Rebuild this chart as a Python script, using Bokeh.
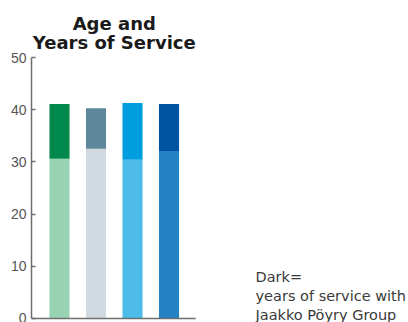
from bokeh.plotting import figure
from bokeh.models import Range1d, FixedTicker
from bokeh.core.properties import value
from bokeh.embed import file_html
from bokeh.resources import INLINE

# Data
groups = [1, 2, 3, 4]
age = [41.1, 40.3, 41.3, 41.1]             # total bar height = average age
service = [10.5, 7.8, 10.9, 9.0]           # dark part = years of service
light_colors = ["#98d4b4", "#d0d8e0", "#4cbbe8", "#2481c3"]
dark_colors = ["#00894b", "#5e879c", "#009ddf", "#0053a0"]
y_ticks = [0, 10, 20, 30, 40, 50]
title_lines = ["Age and", "Years of Service"]
note_lines = ["Dark=", "years of service with", "Jaakko Pöyry Group"]

split = [a - s for a, s in zip(age, service)]

X0, X_AXIS_END = 0.233, 4.73

p = figure(width=408, height=322, output_backend="svg", toolbar_location=None,
           x_range=Range1d(X0, 10.56), y_range=Range1d(-0.77, 60.93),
           x_axis_type=None, min_border_left=31, min_border_right=0,
           min_border_top=0, min_border_bottom=0)
p.outline_line_color = None
p.grid.visible = False
p.background_fill_color = "white"
p.border_fill_color = "white"

p.vbar(x=groups, width=0.55, bottom=0, top=split, color=light_colors, line_color=None)
p.vbar(x=groups, width=0.55, bottom=split, top=age, color=dark_colors, line_color=None)

ax = p.yaxis[0]
ax.bounds = (y_ticks[0], y_ticks[-1])
ax.ticker = FixedTicker(ticks=y_ticks)
ax.axis_line_color = "#6e6e6e"
ax.axis_line_width = 1.5
ax.major_tick_line_color = "#6e6e6e"
ax.major_tick_line_width = 1.5
ax.major_tick_in = 4
ax.major_tick_out = 0
ax.minor_tick_line_color = None
ax.major_label_standoff = 5
ax.major_label_text_font = "Liberation Sans"
ax.major_label_text_font_size = "14px"
ax.major_label_text_color = "#555555"

# baseline (x axis line)
p.segment(x0=[X0], y0=[0], x1=[X_AXIS_END], y1=[0], line_color="#6e6e6e", line_width=1.5)

p.text(x=[2.5, 2.5], y=[56.45, 52.95], text=title_lines, text_align="center",
       text_baseline="alphabetic", text_font=value("DejaVu Sans"), text_font_style="bold",
       text_font_size="18px", text_color="#1a1a1a")

p.text(x=[6.37] * 3, y=[7.86, 4.22, 0.58], text=note_lines, text_align="left",
       text_baseline="alphabetic", text_font=value("DejaVu Sans"),
       text_font_size="14.5px", text_color="#3a3a3a")

open("out.html", "w").write(file_html(p, INLINE))
